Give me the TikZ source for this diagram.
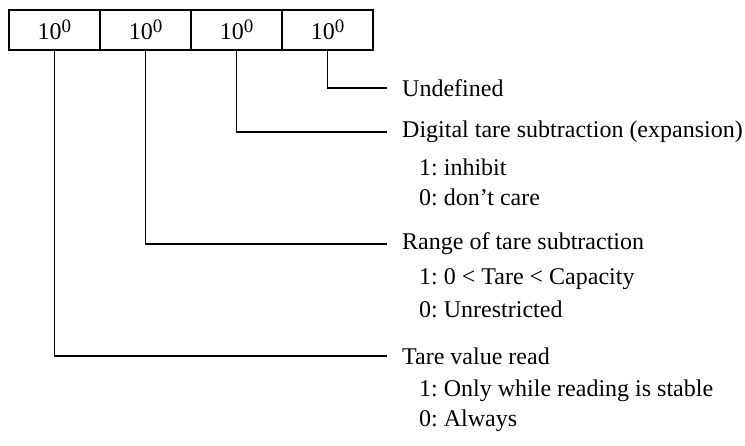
\documentclass[tikz,border=0pt]{standalone}
\usepackage{fontspec}
\setmainfont{Liberation Serif}
\frenchspacing
\newcommand{\tenzero}{10\raisebox{7pt}{\fontsize{19}{19}\selectfont 0}}
\begin{document}
\begin{tikzpicture}[x=1pt,y=-1pt,
  cell/.style={draw,line width=1.3pt,minimum width=91pt,minimum height=40pt,inner sep=0pt,font=\fontsize{24}{26}\selectfont},
  lead/.style={line width=1.3pt},
  head/.style={anchor=west,inner xsep=15pt,inner ysep=0pt,font=\fontsize{24}{27}\selectfont},
  sub/.style={anchor=west,inner sep=0pt,font=\fontsize{24}{27}\selectfont}]
\useasboundingbox (0,0) rectangle (745,446);
\node[cell] (b1) at (54.5,30) {\tenzero};
\node[cell] (b2) at (145.5,30) {\tenzero};
\node[cell] (b3) at (236.5,30) {\tenzero};
\node[cell] (b4) at (327.5,30) {\tenzero};
\node[head] (t4) at (387,88) {Undefined};
\node[head] (t3) at (387,132) {Digital tare subtraction (expansion)};
\node[sub] (t3a) at (419,167) {1: inhibit};
\node[sub] (t3b) at (419,197) {0: don’t care};
\node[head] (t2) at (387,244) {Range of tare subtraction};
\node[sub] (t2a) at (419,279) {1: 0 < Tare < Capacity};
\node[sub] (t2b) at (419,309) {0: Unrestricted};
\node[head] (t1) at (387,356) {Tare value read};
\node[sub] (t1a) at (419,391) {1: Only while reading is stable};
\node[sub] (t1b) at (419,421) {0: Always};
\draw[lead] (b4.south) |- (t4.west);
\draw[lead] (b3.south) |- (t3.west);
\draw[lead] (b2.south) |- (t2.west);
\draw[lead] (b1.south) |- (t1.west);
\end{tikzpicture}
\end{document}
